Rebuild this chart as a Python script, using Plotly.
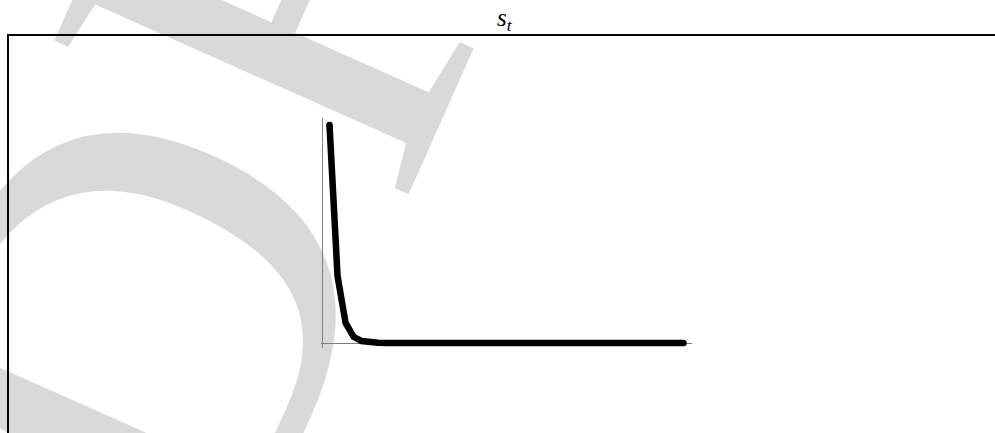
import plotly.graph_objects as go

# Time steps and the decaying state s_t
t = list(range(45))
s_t = [1.0, 0.307, 0.092, 0.028, 0.009, 0.0028, 0.0009, 0.0003, 0.0001, 0.0,
       0.0, 0.0, 0.0, 0.0, 0.0, 0.0, 0.0, 0.0, 0.0, 0.0,
       0.0, 0.0, 0.0, 0.0, 0.0, 0.0, 0.0, 0.0, 0.0, 0.0,
       0.0, 0.0, 0.0, 0.0, 0.0, 0.0, 0.0, 0.0, 0.0, 0.0,
       0.0, 0.0, 0.0, 0.0, 0.0]

title_text = "<i>s</i><sub><i>t</i></sub>"
watermark = "DRAFT"

W, H = 995, 433
LINE_W = 6.5

fig = go.Figure()
fig.add_trace(go.Scatter(
    x=t, y=s_t, mode="lines",
    line=dict(color="black", width=LINE_W, shape="linear"),
    hoverinfo="skip", showlegend=False,
))
# rounded ends of the thick curve
fig.add_trace(go.Scatter(
    x=[t[0], t[-1]], y=[s_t[0], s_t[-1]], mode="markers",
    marker=dict(color="black", size=LINE_W, line=dict(width=0)),
    hoverinfo="skip", showlegend=False,
))

axis_gray = "#7f7f7f"
wm_x, wm_y = 380, -388   # watermark centre, pixels from top-left
fig.update_layout(
    width=W, height=H,
    margin=dict(l=0, r=0, t=0, b=0),
    paper_bgcolor="white", plot_bgcolor="rgba(0,0,0,0)",
    showlegend=False,
    xaxis=dict(
        domain=[321 / W, 692 / W],
        range=[-1.057, 45.057],
        anchor="free", position=(H - 343) / H,
        showline=True, linecolor=axis_gray, linewidth=1, layer="below traces",
        showgrid=False, zeroline=False, showticklabels=False, ticks="",
    ),
    yaxis=dict(
        domain=[(H - 348) / H, (H - 118) / H],
        range=[-0.023, 1.032],
        anchor="free", position=322 / W,
        showline=True, linecolor=axis_gray, linewidth=1, layer="below traces",
        showgrid=False, zeroline=False, showticklabels=False, ticks="",
    ),
    shapes=[
        # light watermark behind everything
        dict(
            type="rect", xref="paper", yref="paper",
            x0=wm_x / W - 0.001, x1=wm_x / W + 0.001,
            y0=(H - wm_y) / H - 0.001, y1=(H - wm_y) / H + 0.001,
            line=dict(width=0), fillcolor="rgba(0,0,0,0)",
            layer="below",
            label=dict(
                text=watermark, textangle=-66,
                textposition="middle center",
                font=dict(family="Liberation Serif", size=590, color="#d9d9d9"),
            ),
        ),
        # outer frame
        dict(
            type="rect", xref="paper", yref="paper",
            x0=8 / W, x1=1.2, y0=-0.3, y1=(H - 35) / H,
            line=dict(color="black", width=2), fillcolor="rgba(0,0,0,0)",
            layer="above",
        ),
    ],
    annotations=[
        dict(
            text=title_text, xref="paper", yref="paper",
            x=505 / W, y=(H - 19) / H, xanchor="center", yanchor="middle",
            showarrow=False,
            font=dict(family="Liberation Serif", size=25, color="black"),
        ),
    ],
)

fig.write_html("out.html")
